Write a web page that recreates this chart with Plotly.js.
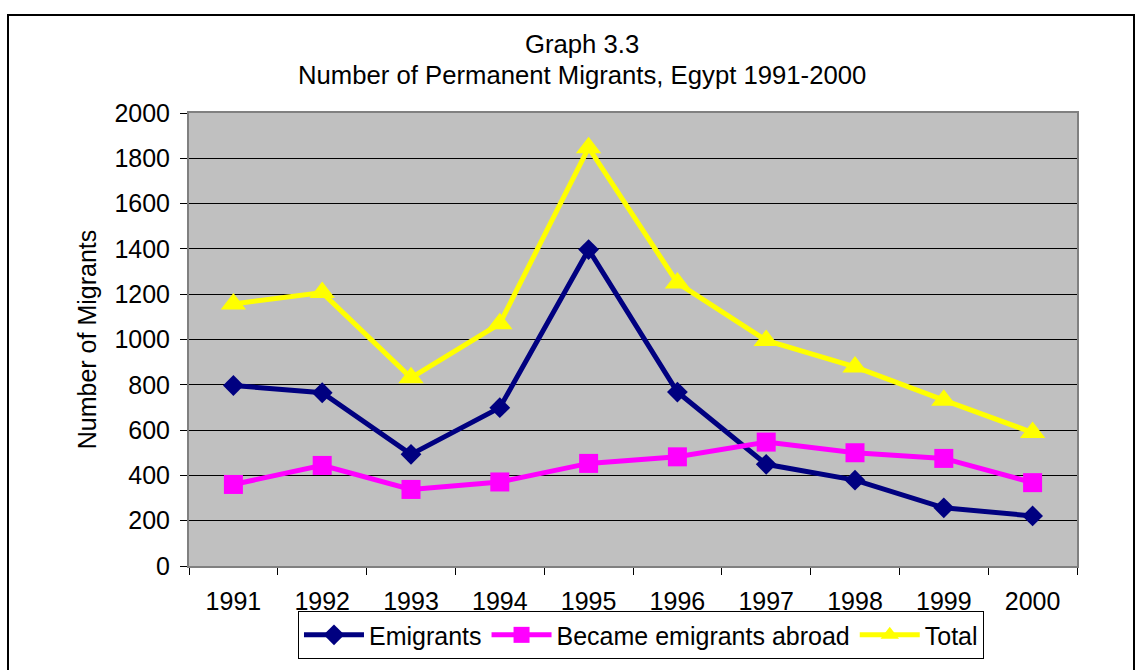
<!DOCTYPE html>
<html>
<head>
<meta charset="utf-8">
<script src="https://cdn.plot.ly/plotly-3.0.1.min.js"></script>
<style>
html,body{margin:0;padding:0;background:#fff;}
#frame{position:absolute;left:7px;top:14px;width:1128px;height:680px;border:2px solid #000;box-sizing:border-box;pointer-events:none;}
#chart{position:absolute;left:0;top:0;width:1142px;height:670px;}
</style>
</head>
<body>
<div id="chart"></div>
<div id="frame"></div>
<script>
const years = ['1991','1992','1993','1994','1995','1996','1997','1998','1999','2000'];
const emigrants = [797, 765, 493, 699, 1397, 768, 449, 379, 257, 221];
const becameAbroad = [360, 444, 338, 371, 453, 482, 547, 500, 475, 368];
const total = [1157, 1207, 831, 1070, 1847, 1250, 996, 879, 732, 589];
const yTicks = [0,200,400,600,800,1000,1200,1400,1600,1800,2000];
const titleLines = ['Graph 3.3', 'Number of Permanent Migrants, Egypt 1991-2000'];

const FS = 25;
const font = {family: 'Liberation Sans, Arial, sans-serif', size: FS, color: '#000'};
const titleFont = {family: 'Liberation Sans, Arial, sans-serif', size: 25.7, color: '#000'};

const traces = [
  {x: years, y: emigrants, name: 'Emigrants', type: 'scatter', mode: 'lines+markers',
   line: {color: '#000080', width: 5}, marker: {symbol: 'diamond', size: 16, color: '#000080'}},
  {x: years, y: becameAbroad, name: 'Became emigrants abroad', type: 'scatter', mode: 'lines+markers',
   line: {color: '#FF00FF', width: 5}, marker: {symbol: 'square', size: 19, color: '#FF00FF'}},
  {x: years, y: total, name: 'Total', type: 'scatter', mode: 'lines+markers',
   line: {color: '#FFFF00', width: 5}, marker: {symbol: 'triangle-up', size: 22, color: '#FFFF00'}}
];

const layout = {
  width: 1142, height: 670,
  margin: {l: 189, r: 65, t: 113, b: 103},
  paper_bgcolor: '#fff',
  plot_bgcolor: '#C0C0C0',
  font: font,
  showlegend: true,
  annotations: [
    {text: titleLines[0], xref: 'paper', yref: 'paper', x: 0.4426, y: 1.152,
     xanchor: 'center', yanchor: 'middle', showarrow: false, font: titleFont},
    {text: titleLines[1], xref: 'paper', yref: 'paper', x: 0.4426, y: 1.0837,
     xanchor: 'center', yanchor: 'middle', showarrow: false, font: titleFont}
  ],
  xaxis: {
    type: 'category',
    range: [-0.5, years.length - 0.5],
    tickson: 'boundaries',
    ticks: 'outside', ticklen: 7, tickcolor: '#000', tickwidth: 1,
    showgrid: false, zeroline: false,
    showline: true, linecolor: '#808080', linewidth: 2, mirror: true,
    ticklabelstandoff: 12,
    tickfont: font
  },
  yaxis: {
    range: [0, 2000],
    tickvals: yTicks,
    ticks: 'outside', ticklen: 7, tickcolor: '#000', tickwidth: 1,
    showgrid: true, gridcolor: '#000', gridwidth: 1,
    zeroline: false,
    showline: true, linecolor: '#808080', linewidth: 2, mirror: true,
    ticklabelstandoff: 5,
    tickfont: font,
    title: {text: 'Number of Migrants', font: font, standoff: 11}
  },
  legend: {
    orientation: 'h', x: 0.509, xanchor: 'center', y: -0.15, yanchor: 'middle',
    bordercolor: '#000', borderwidth: 1, bgcolor: '#fff',
    font: font, itemwidth: 60, tracegroupgap: 0
  }
};

Plotly.newPlot('chart', traces, layout, {displayModeBar: false, staticPlot: true});
</script>
</body>
</html>
